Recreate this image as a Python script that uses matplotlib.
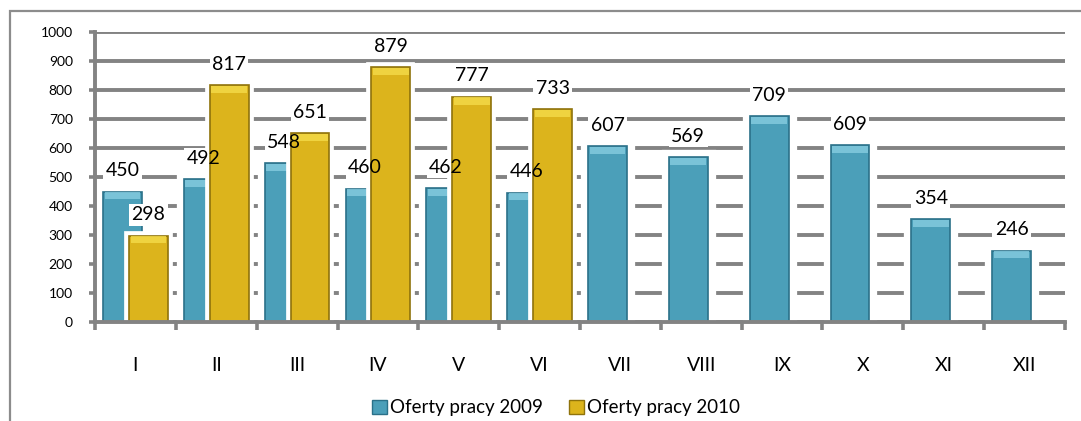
import numpy as np
import matplotlib.pyplot as plt
from matplotlib.patches import Rectangle, Patch

# data
months = ['I', 'II', 'III', 'IV', 'V', 'VI', 'VII', 'VIII', 'IX', 'X', 'XI', 'XII']
offers_2009 = [450, 492, 548, 460, 462, 446, 607, 569, 709, 609, 354, 246]
offers_2010 = [298, 817, 651, 879, 777, 733]
yticks = [0, 100, 200, 300, 400, 500, 600, 700, 800, 900, 1000]

blue, blue_edge, blue_top = '#4b9fb9', '#2b7189', '#86cde0'
yellow, yellow_edge, yellow_top = '#dcb41c', '#8f730c', '#f5dc4a'
grey = '#838383'

plt.rcParams['font.family'] = ['Lato', 'DejaVu Sans']

fig = plt.figure(figsize=(10.81, 4.21), dpi=100)
ax = fig.add_axes([95/1081, 99/421, 970/1081, 290/421])

# outer chart frame
fig.patches.append(Rectangle((9.5/1081, -0.2), 1.2, 1.2 - 10.5/421,
                             transform=fig.transFigure, fill=False,
                             edgecolor='#8c8c8c', linewidth=1.6))

w = 0.48
off = 0.16
x09 = np.arange(len(offers_2009)) - off
x10 = np.arange(len(offers_2010)) + off

def draw_bars(x, vals, col, edge, top, z, halo):
    # white halo that cuts the gridlines
    ax.bar(x, vals, w, color='white', edgecolor='white', linewidth=halo, zorder=z)
    ax.bar(x, vals, w, color=col, edgecolor=edge, linewidth=1.2, zorder=z + 0.1)
    # light bevel on top of each bar
    ax.bar(x, [25] * len(vals), w * 0.92, bottom=np.array(vals) - 27,
           color=top, linewidth=0, zorder=z + 0.2, alpha=0.8)

def labels(x, vals, z):
    for xi, v in zip(x, vals):
        # white box under the text, kept below the next series
        ax.annotate(str(v), (xi, v), xytext=(0, 15), textcoords='offset points',
                    ha='center', va='center', fontsize=14, zorder=z, color='none',
                    bbox=dict(boxstyle='square,pad=0.12', fc='white', ec='none'))
        ax.annotate(str(v), (xi, v), xytext=(0, 15), textcoords='offset points',
                    ha='center', va='center', fontsize=14, zorder=7)

draw_bars(x09, offers_2009, blue, blue_edge, blue_top, 2, 11)
labels(x09, offers_2009, 2.5)
draw_bars(x10, offers_2010, yellow, yellow_edge, yellow_top, 3, 7)
labels(x10, offers_2010, 3.5)

ax.set_xlim(-0.5, 11.5)
ax.set_ylim(0, 1000)
ax.set_yticks(yticks)
ax.yaxis.grid(True, color=grey, linewidth=2.8, zorder=0)
ax.set_axisbelow(True)

ax.set_xticks(np.arange(len(months)))
ax.set_xticklabels(months, fontsize=14)
ax.set_xticks(np.arange(len(months) + 1) - 0.5, minor=True)
ax.tick_params(axis='x', which='major', length=0, pad=25)
ax.tick_params(axis='x', which='minor', length=5.5, width=2.6, color=grey)
ax.tick_params(axis='y', length=4, width=2.6, color=grey, pad=12, labelsize=10)

for s in ['top', 'right']:
    ax.spines[s].set_visible(False)
for s in ['left', 'bottom']:
    ax.spines[s].set_color(grey)
    ax.spines[s].set_linewidth(2.8)
    ax.spines[s].set_zorder(5)

handles = [Patch(facecolor=blue, edgecolor=blue_edge), Patch(facecolor=yellow, edgecolor=yellow_edge)]
fig.legend(handles, ['Oferty pracy 2009', 'Oferty pracy 2010'], loc='center',
           bbox_to_anchor=(556/1081, 13/421), ncol=2, frameon=False, fontsize=13.5,
           handlelength=0.8, handleheight=0.8, handletextpad=0.15, columnspacing=1.4)

fig.savefig('out.png', dpi=100)
